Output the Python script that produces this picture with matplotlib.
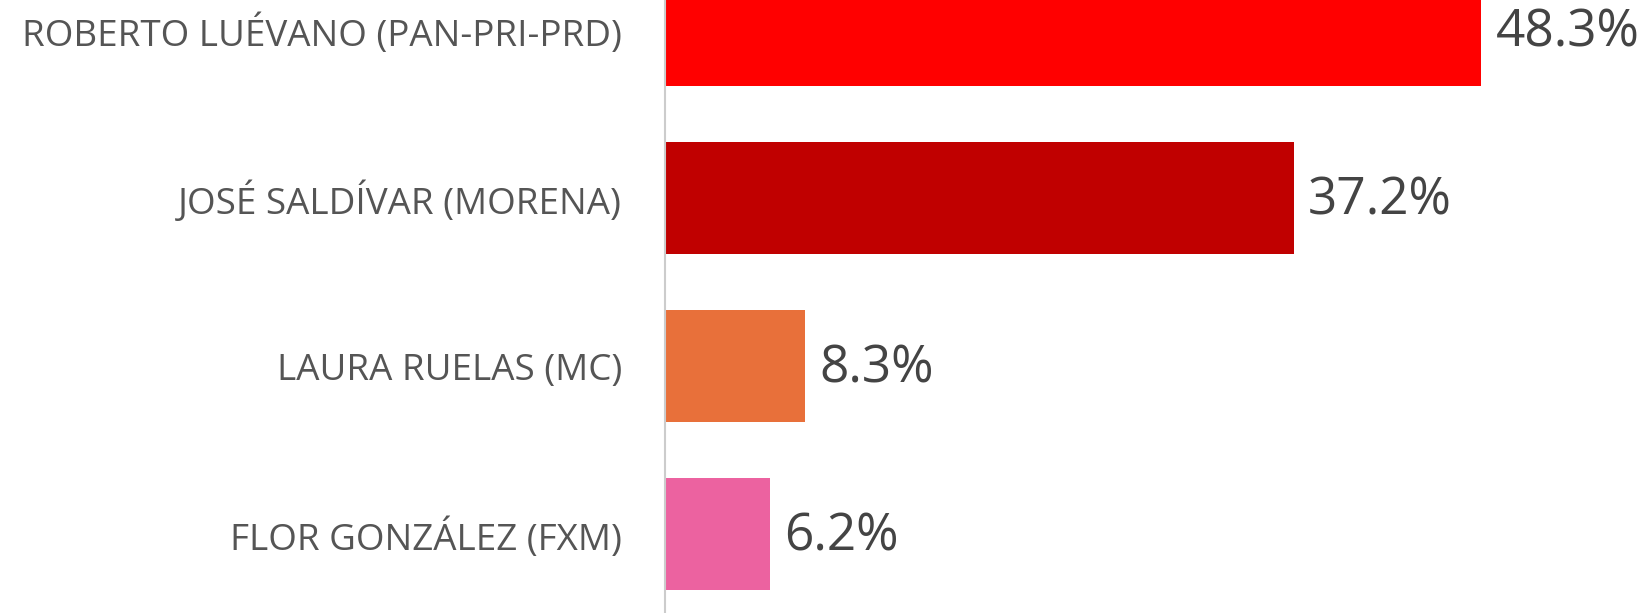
import numpy as np
import matplotlib
matplotlib.use("Agg")
import matplotlib.pyplot as plt

candidatos = ["ROBERTO LUÉVANO (PAN-PRI-PRD)", "JOSÉ SALDÍVAR (MORENA)",
              "LAURA RUELAS (MC)", "FLOR GONZÁLEZ (FXM)"]
votos = [48.3, 37.2, 8.3, 6.2]
colores = ["#ff0000", "#c00000", "#e8703a", "#ec62a0"]

plt.rcParams['font.family'] = ['Open Sans', 'DejaVu Sans']

fig = plt.figure(figsize=(16.47, 6.13), dpi=100)
ax = fig.add_axes([665/1647, 0, 1 - 665/1647, 1])

y = np.arange(len(candidatos))
ax.barh(y, votos, height=0.67, color=colores)
for yi, v in zip(y, votos):
    ax.text(v + 0.85, yi + 0.02, f"{v}%", va="center", ha="left", fontsize=37, color="#444444")

ax.set_xlim(0, 58.1)
ax.set_ylim(3.47, -0.179)
ax.set_yticks(y)
ax.set_yticklabels(candidatos, fontsize=26.5, color="#555555")
ax.tick_params(axis="y", length=0, pad=31)
ax.set_xticks([])
for s in ["top", "right", "bottom"]:
    ax.spines[s].set_visible(False)
ax.spines["left"].set_color("#cccccc")
ax.spines["left"].set_linewidth(1.5)

fig.savefig("out.png", dpi=100)
